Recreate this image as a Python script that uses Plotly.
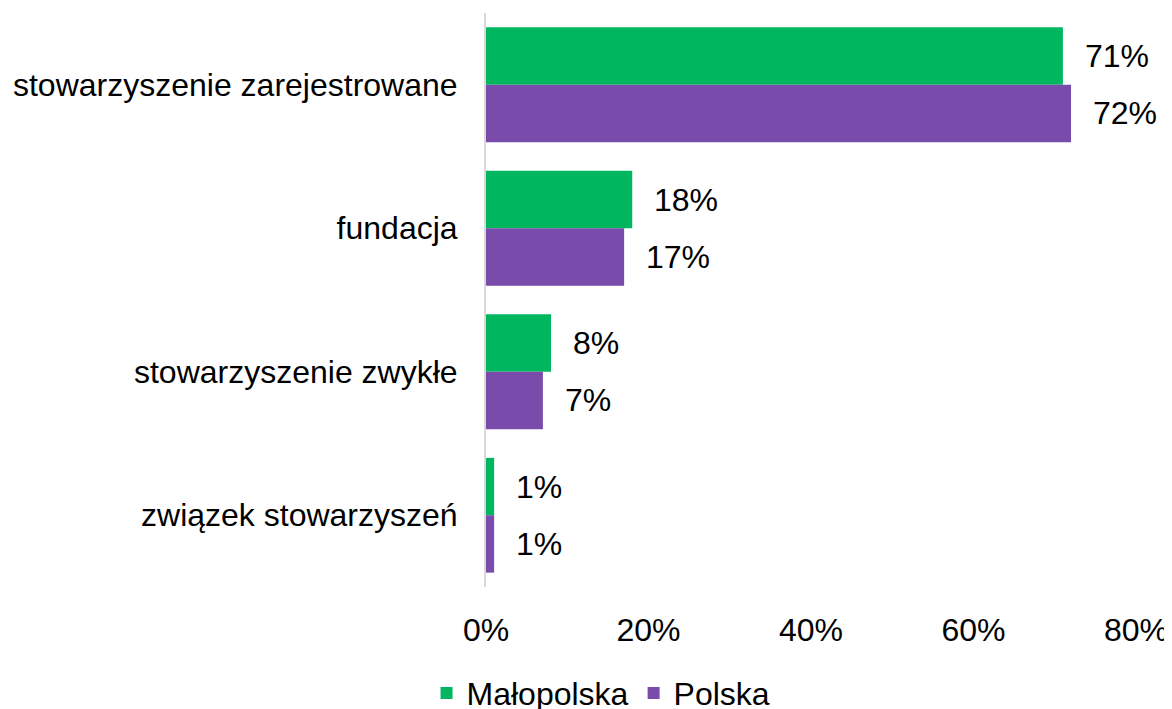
import plotly.graph_objects as go

categories = ["stowarzyszenie zarejestrowane", "fundacja", "stowarzyszenie zwykłe", "związek stowarzyszeń"]
malopolska = [71, 18, 8, 1]
polska = [72, 17, 7, 1]
x_ticks = [0, 20, 40, 60, 80]
x_tick_labels = ["0%", "20%", "40%", "60%", "80%"]

green = "#00B760"
purple = "#794BAA"
font_family = "Liberation Sans, Arial, sans-serif"
fs = 32

fig = go.Figure()
fig.add_trace(go.Bar(y=categories, x=malopolska, orientation="h", name="Małopolska",
                     marker=dict(color=green, line=dict(width=0))))
fig.add_trace(go.Bar(y=categories, x=polska, orientation="h", name="Polska",
                     marker=dict(color=purple, line=dict(width=0))))

annotations = []
for vals, shift in ((malopolska, -28.5), (polska, 28.5)):
    for c, v in zip(categories, vals):
        annotations.append(dict(x=v, y=c, xref="x", yref="y", text=f"{v}%", showarrow=False,
                                xanchor="left", yanchor="middle", xshift=20, yshift=-shift,
                                font=dict(family=font_family, size=fs, color="#000")))

fig.update_layout(
    width=1172, height=709,
    margin=dict(l=478, r=44, t=5, b=130, autoexpand=False),
    paper_bgcolor="white", plot_bgcolor="white",
    barmode="group", bargap=0.2, bargroupgap=0,
    font=dict(family=font_family, size=fs, color="#000"),
    showlegend=True,
    legend=dict(orientation="h", x=0.177, y=-0.185,
                xanchor="center", yanchor="middle", font=dict(size=fs),
                itemsizing="constant", traceorder="normal", tracegroupgap=0),
    annotations=annotations,
)
fig.update_xaxes(range=[0, 80], tickvals=x_ticks, ticktext=x_tick_labels, showgrid=False,
                 zeroline=False, showline=False, ticks="", ticklabelstandoff=21,
                 tickfont=dict(size=fs), automargin=False)
fig.update_yaxes(autorange="reversed", showgrid=False, zeroline=False, showline=True,
                 linecolor="#D9D9D9", linewidth=2, ticks="", ticklabelstandoff=20,
                 tickfont=dict(size=fs), automargin=False)

fig.write_html("out.html")
